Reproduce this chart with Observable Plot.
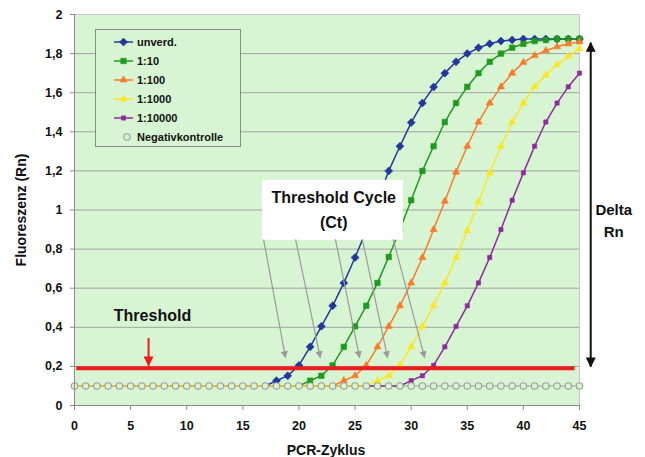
<!DOCTYPE html>
<html><head><meta charset="utf-8">
<script src="https://cdn.jsdelivr.net/npm/d3@7"></script>
<script src="https://cdn.jsdelivr.net/npm/@observablehq/plot@0.6"></script>
<style>body{margin:0;background:#fff}#chart{width:645px;height:457px}</style>
</head><body><div id="chart"></div>
<script>
// ---------- data ----------
const cycles = [0,1,2,3,4,5,6,7,8,9,10,11,12,13,14,15,16,17,18,19,20,21,22,23,24,25,26,27,28,29,30,31,32,33,34,35,36,37,38,39,40,41,42,43,44,45];
const seriesNames = ["unverd.", "1:10", "1:100", "1:1000", "1:10000", "Negativkontrolle"];
const unverd = [0.1,0.1,0.1,0.1,0.1,0.1,0.1,0.1,0.1,0.1,0.1,0.1,0.1,0.1,0.1,0.1,0.1,0.1,0.127,0.152,0.205,0.30,0.405,0.51,0.627,0.757,0.895,1.05,1.20,1.326,1.447,1.547,1.629,1.70,1.758,1.80,1.83,1.85,1.864,1.87,1.875,1.875,1.875,1.875,1.875,1.875];
const d1_10 = [0.1,0.1,0.1,0.1,0.1,0.1,0.1,0.1,0.1,0.1,0.1,0.1,0.1,0.1,0.1,0.1,0.1,0.1,0.1,0.1,0.1,0.127,0.152,0.205,0.30,0.405,0.51,0.627,0.76,0.90,1.05,1.20,1.326,1.45,1.547,1.63,1.70,1.758,1.80,1.83,1.85,1.864,1.87,1.875,1.875,1.875];
const d1_100 = [0.1,0.1,0.1,0.1,0.1,0.1,0.1,0.1,0.1,0.1,0.1,0.1,0.1,0.1,0.1,0.1,0.1,0.1,0.1,0.1,0.1,0.1,0.1,0.1,0.127,0.152,0.205,0.30,0.405,0.51,0.627,0.757,0.90,1.045,1.194,1.326,1.45,1.547,1.63,1.70,1.755,1.79,1.815,1.835,1.85,1.86];
const d1_1000 = [0.1,0.1,0.1,0.1,0.1,0.1,0.1,0.1,0.1,0.1,0.1,0.1,0.1,0.1,0.1,0.1,0.1,0.1,0.1,0.1,0.1,0.1,0.1,0.1,0.1,0.1,0.1,0.127,0.152,0.205,0.30,0.405,0.51,0.627,0.757,0.895,1.04,1.19,1.326,1.45,1.547,1.63,1.69,1.743,1.785,1.825];
const d1_10000 = [0.1,0.1,0.1,0.1,0.1,0.1,0.1,0.1,0.1,0.1,0.1,0.1,0.1,0.1,0.1,0.1,0.1,0.1,0.1,0.1,0.1,0.1,0.1,0.1,0.1,0.1,0.1,0.1,0.1,0.1,0.127,0.152,0.205,0.30,0.405,0.51,0.627,0.757,0.90,1.05,1.19,1.326,1.45,1.547,1.63,1.70];
const negativ = [0.1,0.1,0.1,0.1,0.1,0.1,0.1,0.1,0.1,0.1,0.1,0.1,0.1,0.1,0.1,0.1,0.1,0.1,0.1,0.1,0.1,0.1,0.1,0.1,0.1,0.1,0.1,0.1,0.1,0.1,0.1,0.1,0.1,0.1,0.1,0.1,0.1,0.1,0.1,0.1,0.1,0.1,0.1,0.1,0.1,0.1];
const xTicks = [0,5,10,15,20,25,30,35,40,45];
const yTicks = [0,0.2,0.4,0.6,0.8,1,1.2,1.4,1.6,1.8,2];
const threshold = 0.19;
// annotation anchors (data units)
const ctArrowFrom = [16.85, 19.7, 23.25, 25.65, 28.4];
const ctArrowTo = [18.8, 21.9, 25.4, 27.9, 31.2];
const ctArrowY = [0.85, 0.245];
const thresholdArrowX = 6.6;
const deltaRnX = 46.0;
const deltaRnRange = [1.855, 0.2];

// ---------- styling ----------
const FONT = "'Liberation Sans', Arial, Helvetica, sans-serif";
const BG = "#d8f5d3";
const colors = ["#22389c", "#1f9a1f", "#f97b2a", "#fbe624", "#8e2a9c", "#a0a0a0"];
const symbols = ["diamond2", "square", "triangle2", "triangle2", "square", "circle"];
const radii = [3.6, 3.1, 3.4, 3.4, 2.4, 3.2];

const values = [unverd, d1_10, d1_100, d1_1000, d1_10000];
const curves = values.map((v, i) => cycles.map((c, j) => ({cycle: c, value: v[j], series: seriesNames[i]})));
const neg = cycles.map((c, j) => ({cycle: c, value: negativ[j]}));
const drawOrder = [0, 1, 2, 4, 3];

const marks = [
  Plot.frame({fill: BG, stroke: "#c9c9c9"}),
  Plot.ruleY(yTicks.filter(d => d > 0 && d < 2), {stroke: "#a3a3a3", strokeWidth: 1}),
  Plot.line(neg, {x: "cycle", y: "value", stroke: colors[5], strokeWidth: 1})
];
for (const i of drawOrder) {
  marks.push(Plot.line(curves[i], {x: "cycle", y: "value", stroke: colors[i], strokeWidth: 1.5}));
}
for (const i of drawOrder) {
  marks.push(Plot.dot(curves[i].filter(d => d.value > 0.11), {x: "cycle", y: "value", symbol: () => symbols[i], r: radii[i], fill: colors[i], stroke: colors[i], strokeWidth: 0.6}));
}
marks.push(
  Plot.dot(neg, {x: "cycle", y: "value", symbol: "circle", r: 3.2, fill: BG, stroke: "#9c9c9c", strokeWidth: 1.1}),
  Plot.ruleY([threshold], {x1: 0.2, x2: 44.6, stroke: "#ee1c1c", strokeWidth: 4}),
  Plot.link([thresholdArrowX], {x1: d => d, x2: d => d, y1: 0.345, y2: 0.205, stroke: "#ee1c1c", strokeWidth: 2, ariaDescription: "red-arrow"}),
  Plot.text(["Threshold"], {x: 6.95, y: 0.457, text: d => d, fontSize: 16, fontWeight: "bold", fill: "#111"}),
  Plot.rect([0], {x1: 16.75, x2: 29.3, y1: 0.845, y2: 1.152, fill: "white"}),
  Plot.text(["Threshold Cycle"], {x: 23.1, y: 1.06, text: d => d, fontSize: 16, fontWeight: "bold", fill: "#111"}),
  Plot.text(["(Ct)"], {x: 23.1, y: 0.935, text: d => d, fontSize: 16, fontWeight: "bold", fill: "#111"}),
  Plot.link(ctArrowFrom.map((f, i) => ({x1: f, x2: ctArrowTo[i]})), {x1: "x1", x2: "x2", y1: ctArrowY[0], y2: ctArrowY[1], stroke: "#9a9a9a", strokeWidth: 1.2, ariaDescription: "ct-arrows"}),
  Plot.link([deltaRnX], {x1: d => d, x2: d => d, y1: deltaRnRange[0], y2: deltaRnRange[1], stroke: "#111", strokeWidth: 2, ariaDescription: "delta-arrow"}),
  Plot.text(["Delta"], {x: 48.05, y: 1.0, text: d => d, fontSize: 15, fontWeight: "bold", fill: "#111"}),
  Plot.text(["Rn"], {x: 48.05, y: 0.885, text: d => d, fontSize: 15, fontWeight: "bold", fill: "#111"}),
  Plot.ruleX([0], {stroke: "#8a8a8a"}),
  Plot.ruleY([0], {stroke: "#8a8a8a"}),
  Plot.axisX({ticks: xTicks, tickSize: 5, tickPadding: 11, label: null, stroke: "#8a8a8a", fill: "#111"}),
  Plot.axisY({ticks: yTicks, tickSize: 4, tickPadding: 8, label: null, stroke: "#8a8a8a", fill: "#111",
    tickFormat: d => d === 0 ? "0" : String(+d.toFixed(1)).replace(".", ",")})
);

const chart = Plot.plot({
  width: 645, height: 457,
  marginLeft: 74, marginRight: 66, marginTop: 14, marginBottom: 52,
  x: {domain: [0, 45]},
  y: {domain: [0, 2]},
  style: {fontFamily: FONT, fontSize: "12.5px", fontWeight: "bold", background: "white", overflow: "visible"},
  marks
});
document.getElementById("chart").appendChild(chart);

// ---------- arrowheads, titles, legend ----------
const svg = d3.select(chart);
const defs = svg.append("defs");
function head(id, color, w, h) {
  defs.append("marker").attr("id", id).attr("viewBox", "0 0 10 10").attr("refX", 9).attr("refY", 5)
    .attr("markerUnits", "userSpaceOnUse").attr("markerWidth", w).attr("markerHeight", h)
    .attr("orient", "auto-start-reverse")
    .append("path").attr("d", "M0,0L10,5L0,10z").attr("fill", color);
}
head("ah-gray", "#9a9a9a", 8, 7);
head("ah-red", "#ee1c1c", 11, 10);
head("ah-black", "#111", 12, 10);
function addHeads(desc, id, both) {
  const sel = svg.selectAll(`g[aria-description="${desc}"] path, g[aria-description="${desc}"] line`);
  sel.attr("marker-end", `url(#${id})`);
  if (both) sel.attr("marker-start", `url(#${id})`);
}
addHeads("ct-arrows", "ah-gray", false);
addHeads("red-arrow", "ah-red", false);
addHeads("delta-arrow", "ah-black", true);

svg.append("text").attr("x", 326).attr("y", 455).attr("text-anchor", "middle")
  .attr("font-family", FONT).attr("font-size", 14).attr("font-weight", "bold").attr("fill", "#111").text("PCR-Zyklus");
svg.append("text").attr("transform", "translate(26,210) rotate(-90)").attr("text-anchor", "middle")
  .attr("font-family", FONT).attr("font-size", 14).attr("font-weight", "bold").attr("fill", "#111").text("Fluoreszenz (Rn)");

const lg = svg.append("g");
lg.append("rect").attr("x", 95.5).attr("y", 29.5).attr("width", 145).attr("height", 117)
  .attr("fill", BG).attr("stroke", "#8a8a8a").attr("stroke-width", 1);
seriesNames.forEach((name, i) => {
  const y = 42 + i * 19;
  if (i < 5) lg.append("line").attr("x1", 114).attr("x2", 133).attr("y1", y).attr("y2", y).attr("stroke", colors[i]).attr("stroke-width", 1.5);
  const sym = {diamond2: d3.symbolDiamond2, square: d3.symbolSquare, triangle2: d3.symbolTriangle2, circle: d3.symbolCircle}[symbols[i]];
  const r = radii[i];
  lg.append("path").attr("transform", `translate(${i < 5 ? 123.5 : 127},${y})`)
    .attr("d", d3.symbol(sym, Math.PI * r * r)())
    .attr("fill", i < 5 ? colors[i] : BG).attr("stroke", i < 5 ? colors[i] : "#9c9c9c").attr("stroke-width", i < 5 ? 0.6 : 1.1);
  lg.append("text").attr("x", 137).attr("y", y + 4).attr("text-anchor", "start").attr("font-family", FONT).attr("font-size", 11)
    .attr("font-weight", "bold").attr("fill", "#111").text(name);
});
</script></body></html>
